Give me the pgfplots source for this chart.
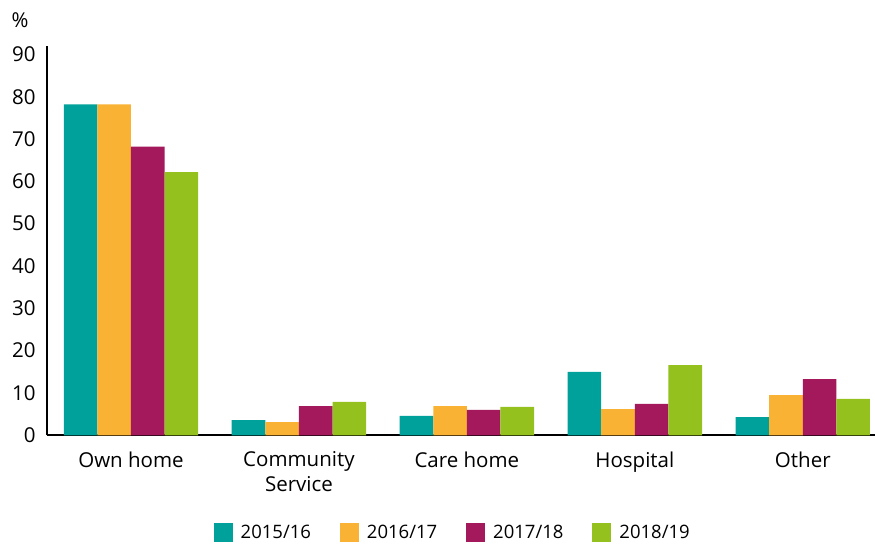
\documentclass[border=0pt]{standalone}
\usepackage{pgfplots}
\pgfplotsset{compat=1.18}
\usepackage{fontspec}
\setmainfont{Open Sans}
\definecolor{cteal}{HTML}{00A19A}
\definecolor{corange}{HTML}{F9B233}
\definecolor{cmag}{HTML}{A3195B}
\definecolor{cgreen}{HTML}{95C11F}
\newcommand{\fs}{\fontsize{20.5bp}{25bp}\selectfont}
\newcommand{\fl}{\fontsize{18.5bp}{22bp}\selectfont}
\begin{document}
\begin{tikzpicture}
\begin{axis}[
  scale only axis,
  width=828bp, height=389bp,
  clip mode=individual,
  ybar=0pt, bar width=0.2,
  xmin=-0.5, xmax=4.43,
  ymin=0, ymax=91.9,
  ytick={0,10,...,90},
  xtick={0,1,2,3,4},
  xticklabels={Own home, Community\\Service, Care home, Hospital, Other},
  xticklabel style={align=center, font=\fs, yshift=-13bp},
  yticklabel style={font=\fs, xshift=-8bp},
  /pgf/number format/assume math mode=true,
  major tick length=0pt,
  axis x line*=bottom, axis y line*=left,
  x axis line style={line width=1.8bp, -},
  y axis line style={line width=1.2bp, -},
  legend columns=4,
  legend style={draw=none, font=\fl, at={(0.49,-0.25)}, anchor=center, inner sep=0pt,
    /tikz/every odd column/.append style={column sep=6bp},
    /tikz/every even column/.append style={column sep=27bp}},
  legend image code/.code={\fill[#1] (0bp,-9.5bp) rectangle (19bp,9.5bp);},
]
\addplot[fill=cteal, draw=none] coordinates {(0,78.2) (1,3.6) (2,4.6) (3,15.0) (4,4.3)};
\addplot[fill=corange, draw=none] coordinates {(0,78.2) (1,3.1) (2,6.9) (3,6.2) (4,9.5)};
\addplot[fill=cmag, draw=none] coordinates {(0,68.2) (1,6.9) (2,6.0) (3,7.4) (4,13.3)};
\addplot[fill=cgreen, draw=none] coordinates {(0,62.2) (1,7.9) (2,6.7) (3,16.6) (4,8.6)};
\legend{2015/16, 2016/17, 2017/18, 2018/19}
\node[font=\fs] at (axis description cs:-0.0326,1.067) {\%};
\end{axis}
\pgfresetboundingbox
\path (-47bp,-109.7bp) rectangle (828bp,435.3bp);
\end{tikzpicture}
\end{document}
